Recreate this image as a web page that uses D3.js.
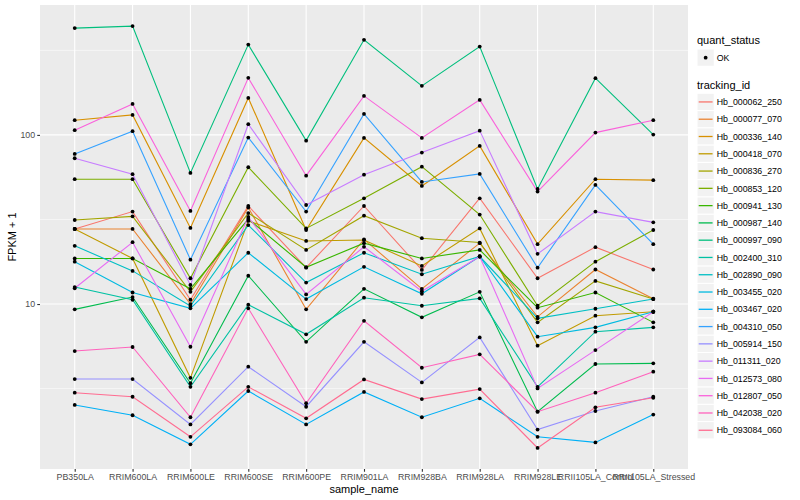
<!DOCTYPE html>
<html>
<head>
<meta charset="utf-8">
<script src="https://cdn.jsdelivr.net/npm/d3@7"></script>
<style>
  body { margin: 0; background: #fff; }
  text { font-family: "Liberation Sans", Arial, sans-serif; }
</style>
</head>
<body>
<svg id="chart" width="800" height="500"></svg>
<script>
// sample names on the x axis
const sampleNames = ["PB350LA", "RRIM600LA", "RRIM600LE", "RRIM600SE", "RRIM600PE", "RRIM901LA",
  "RRIM928BA", "RRIM928LA", "RRIM928LE", "RRII105LA_Control", "RRII105LA_Stressed"];

const trackingIds = ["Hb_000062_250", "Hb_000077_070", "Hb_000336_140", "Hb_000418_070", "Hb_000836_270",
  "Hb_000853_120", "Hb_000941_130", "Hb_000987_140", "Hb_000997_090", "Hb_002400_310",
  "Hb_002890_090", "Hb_003455_020", "Hb_003467_020", "Hb_004310_050", "Hb_005914_150",
  "Hb_011311_020", "Hb_012573_080", "Hb_012807_050", "Hb_042038_020", "Hb_093084_060"];

// ggplot hue palette, 20 levels
const lineColors = ["#F8766D", "#EA8331", "#D89000", "#C09B00", "#A3A500", "#7CAE00", "#39B600", "#00BB4E",
  "#00BF7D", "#00C1A3", "#00BFC4", "#00BAE0", "#00B0F6", "#35A2FF", "#9590FF", "#C77CFF",
  "#E76BF3", "#FA62DB", "#FF62BC", "#FF6C91"];

// FPKM + 1, one value per sample
const hb000062_250 = [27.8, 35.2, 10.6, 38.0, 16.4, 38.0, 15.9, 42.2, 14.2, 21.7, 16.0];
const hb000077_070 = [27.8, 27.8, 10.0, 37.2, 9.3, 24.1, 12.3, 22.9, 8.4, 16.0, 10.75];
const hb000336_140 = [122.2, 131.3, 28.2, 165.5, 27.4, 96.0, 49.9, 86.1, 22.6, 54.7, 54.0];
const hb000418_070 = [27.8, 18.6, 3.66, 31.0, 23.6, 23.9, 16.8, 28.0, 5.67, 8.53, 9.0];
const hb000836_270 = [31.4, 33.0, 11.8, 34.5, 20.9, 33.3, 24.5, 23.1, 7.79, 13.7, 10.7];
const hb000853_120 = [54.7, 54.7, 14.2, 64.4, 28.0, 42.2, 64.9, 33.8, 9.77, 17.8, 27.4];
const hb000941_130 = [18.6, 18.6, 12.3, 31.8, 16.5, 22.9, 18.6, 20.9, 9.51, 11.7, 7.79];
const hb000987_140 = [9.3, 11.0, 3.40, 14.7, 5.98, 12.3, 8.34, 11.8, 2.31, 4.42, 4.46];
const hb000997_090 = [428, 440, 59.6, 342, 92.5, 365, 195, 333, 47.9, 216.5, 100.4];
const hb002400_310 = [12.6, 10.6, 3.24, 9.9, 6.62, 10.9, 9.77, 10.8, 3.24, 6.86, 7.28];
const hb002890_090 = [22.1, 15.7, 9.73, 29.3, 13.4, 20.1, 15.0, 19.1, 8.23, 9.38, 10.7];
const hb003455_020 = [17.8, 11.7, 9.43, 20.1, 10.7, 16.6, 11.5, 19.1, 6.41, 7.28, 9.0];
const hb003467_020 = [2.53, 2.20, 1.48, 3.06, 1.94, 3.02, 2.14, 2.77, 1.64, 1.52, 2.22];
const hb004310_050 = [77.2, 105.2, 18.3, 96.4, 35.2, 133.1, 52.7, 58.8, 16.4, 50.6, 22.6];
const hb005914_150 = [3.60, 3.60, 1.94, 4.26, 2.47, 5.98, 3.44, 6.35, 1.81, 2.33, 2.83];
const hb011311_020 = [72.8, 58.6, 12.96, 115.7, 38.5, 58.2, 78.6, 106.0, 19.8, 35.2, 30.4];
const hb012573_080 = [12.4, 23.2, 5.59, 32.7, 11.4, 21.8, 11.9, 19.1, 3.17, 5.34, 9.0];
const hb012807_050 = [106.6, 152.5, 35.5, 217.4, 57.4, 170.1, 96.0, 161.1, 46.2, 103.2, 122.2];
const hb042038_020 = [5.27, 5.57, 2.14, 9.43, 2.59, 7.96, 4.20, 5.04, 2.31, 2.99, 3.98];
const hb093084_060 = [2.99, 2.83, 1.64, 3.24, 2.11, 3.58, 2.74, 3.14, 1.41, 2.45, 2.79];

const seriesValues = [hb000062_250, hb000077_070, hb000336_140, hb000418_070, hb000836_270,
  hb000853_120, hb000941_130, hb000987_140, hb000997_090, hb002400_310,
  hb002890_090, hb003455_020, hb003467_020, hb004310_050, hb005914_150,
  hb011311_020, hb012573_080, hb012807_050, hb042038_020, hb093084_060];

const series = trackingIds.map((id, i) => ({
  id: id,
  color: lineColors[i],
  points: sampleNames.map((s, j) => ({ sample: s, value: seriesValues[i][j] }))
}));

const svg = d3.select("#chart");
svg.append("rect").attr("width", 800).attr("height", 500).attr("fill", "#fff");

const panel = { left: 40, right: 688, top: 5, bottom: 469 };

const x = d3.scalePoint()
  .domain(sampleNames)
  .range([panel.left, panel.right])
  .padding(0.6);

// log scale with ggplot-like 5% expansion
const allVals = seriesValues.flat();
const lmin = Math.log10(d3.min(allVals)), lmax = Math.log10(d3.max(allVals));
const pad = (lmax - lmin) * 0.05;
const y = d3.scaleLog()
  .domain([Math.pow(10, lmin - pad), Math.pow(10, lmax + pad)])
  .range([panel.bottom, panel.top]);

// panel background
svg.append("rect")
  .attr("x", panel.left).attr("y", panel.top)
  .attr("width", panel.right - panel.left).attr("height", panel.bottom - panel.top)
  .attr("fill", "#EBEBEB");

const grid = svg.append("g");
const minorY = [Math.pow(10, 0.5), Math.pow(10, 1.5), Math.pow(10, 2.5)]
  .filter(v => v > y.domain()[0] && v < y.domain()[1]);
const majorY = [10, 100];

grid.selectAll(".minor").data(minorY).join("line")
  .attr("x1", panel.left).attr("x2", panel.right)
  .attr("y1", d => y(d)).attr("y2", d => y(d))
  .attr("stroke", "#fff").attr("stroke-width", 0.55);

grid.selectAll(".majorY").data(majorY).join("line")
  .attr("x1", panel.left).attr("x2", panel.right)
  .attr("y1", d => y(d)).attr("y2", d => y(d))
  .attr("stroke", "#fff").attr("stroke-width", 1.1);

grid.selectAll(".majorX").data(sampleNames).join("line")
  .attr("x1", d => x(d)).attr("x2", d => x(d))
  .attr("y1", panel.top).attr("y2", panel.bottom)
  .attr("stroke", "#fff").attr("stroke-width", 1.1);

// lines per tracking_id
const line = d3.line()
  .x(d => x(d.sample))
  .y(d => y(d.value));

svg.append("g").selectAll("path")
  .data(series)
  .join("path")
  .attr("d", d => line(d.points))
  .attr("fill", "none")
  .attr("stroke", d => d.color)
  .attr("stroke-width", 1.1);

// points (quant_status = OK)
svg.append("g").selectAll("circle")
  .data(series.flatMap(s => s.points))
  .join("circle")
  .attr("cx", d => x(d.sample))
  .attr("cy", d => y(d.value))
  .attr("r", 1.9)
  .attr("fill", "#000");

// axes
const yAxis = svg.append("g")
  .attr("transform", `translate(${panel.left},0)`)
  .call(d3.axisLeft(y).tickValues(majorY).tickFormat(d3.format("d")).tickSize(2.75).tickPadding(2.2));
const xAxis = svg.append("g")
  .attr("transform", `translate(0,${panel.bottom})`)
  .call(d3.axisBottom(x).tickSize(2.75).tickPadding(2.2));

[xAxis, yAxis].forEach(ax => {
  ax.select(".domain").remove();
  ax.selectAll(".tick line").attr("stroke", "#333333").attr("stroke-width", 1.1);
  ax.selectAll(".tick text")
    .attr("fill", "#4D4D4D")
    .style("font-size", "8.8px")
    .style("font-family", "'Liberation Sans', Arial, sans-serif");
});

// axis titles
svg.append("text")
  .attr("x", (panel.left + panel.right) / 2).attr("y", 493)
  .attr("text-anchor", "middle")
  .style("font-size", "11px")
  .text("sample_name");

svg.append("text")
  .attr("transform", `translate(16,${(panel.top + panel.bottom) / 2}) rotate(-90)`)
  .attr("text-anchor", "middle")
  .style("font-size", "11px")
  .text("FPKM + 1");

// legends
const legend = svg.append("g").attr("transform", "translate(697,0)");
const keySize = 17.28;

legend.append("text").attr("x", 0).attr("y", 44).style("font-size", "11px").text("quant_status");
legend.append("rect").attr("x", 0).attr("y", 49).attr("width", keySize).attr("height", keySize)
  .attr("fill", "#F2F2F2").attr("stroke", "#fff");
legend.append("circle").attr("cx", keySize / 2).attr("cy", 49 + keySize / 2).attr("r", 1.9).attr("fill", "#000");
legend.append("text").attr("x", keySize + 2.5).attr("y", 49 + keySize / 2 + 3.2)
  .style("font-size", "8.8px").text("OK");

legend.append("text").attr("x", 0).attr("y", 89).style("font-size", "11px").text("tracking_id");

const keys = legend.selectAll(".key")
  .data(series)
  .join("g")
  .attr("transform", (d, i) => `translate(0,${93.3 + i * keySize})`);

keys.append("rect")
  .attr("width", keySize).attr("height", keySize)
  .attr("fill", "#F2F2F2").attr("stroke", "#fff");
keys.append("line")
  .attr("x1", 1.7).attr("x2", keySize - 1.7)
  .attr("y1", keySize / 2).attr("y2", keySize / 2)
  .attr("stroke", d => d.color).attr("stroke-width", 1.3);
keys.append("text")
  .attr("x", keySize + 2.5).attr("y", keySize / 2 + 3.2)
  .style("font-size", "8.8px")
  .text(d => d.id);
</script>
</body>
</html>
